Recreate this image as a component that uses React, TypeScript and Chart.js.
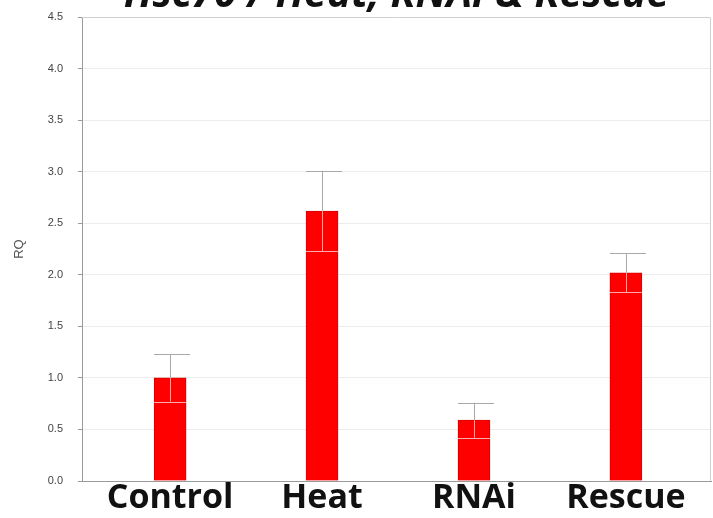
import React, { useEffect, useRef } from "react";
import { Chart, registerables } from "chart.js";

Chart.register(...registerables);

const categories = ["Control", "Heat", "RNAi", "Rescue"];
const rqValues = [1.0, 2.62, 0.59, 2.02];
const rqErrors = [0.23, 0.39, 0.17, 0.19];
const yTicks = [0, 0.5, 1, 1.5, 2, 2.5, 3, 3.5, 4, 4.5];
const chartTitle = "Hsc70 / Heat, RNAi & Rescue";
const yTitle = "RQ";

const SHIFT = 40;

const errorBarPlugin = {
  id: "errorBars",
  afterDatasetsDraw(chart: any) {
    const meta = chart.getDatasetMeta(0);
    const y = chart.scales.y;
    const ctx = chart.ctx;
    ctx.save();
    meta.data.forEach((bar: any, i: number) => {
      const v = rqValues[i];
      const e = rqErrors[i];
      const x = bar.x;
      const w = bar.width;
      const yTop = y.getPixelForValue(v + e);
      const yBar = y.getPixelForValue(v);
      const yLow = y.getPixelForValue(v - e);
      ctx.lineWidth = 1;
      ctx.strokeStyle = "#a8a8a8";
      ctx.beginPath();
      ctx.moveTo(Math.round(x) + 0.5, yTop);
      ctx.lineTo(Math.round(x) + 0.5, yBar);
      ctx.moveTo(x - w / 2, Math.round(yTop) + 0.5);
      ctx.lineTo(x + w / 2 + 4, Math.round(yTop) + 0.5);
      ctx.stroke();
      ctx.strokeStyle = "rgba(255,190,190,0.9)";
      ctx.beginPath();
      ctx.moveTo(Math.round(x) + 0.5, yBar);
      ctx.lineTo(Math.round(x) + 0.5, yLow);
      ctx.moveTo(x - w / 2, Math.round(yLow) + 0.5);
      ctx.lineTo(x + w / 2, Math.round(yLow) + 0.5);
      ctx.stroke();
    });
    ctx.restore();
  },
};

const framePlugin = {
  id: "frame",
  afterDraw(chart: any) {
    const { left, right, top, bottom } = chart.chartArea;
    const ctx = chart.ctx;
    ctx.save();
    ctx.strokeStyle = "#d0d0d0";
    ctx.lineWidth = 1;
    ctx.beginPath();
    ctx.moveTo(left, Math.round(top) + 0.5);
    ctx.lineTo(Math.round(right) - 0.5, Math.round(top) + 0.5);
    ctx.lineTo(Math.round(right) - 0.5, bottom);
    ctx.stroke();
    ctx.restore();
  },
};

export default function App() {
  const ref = useRef<HTMLCanvasElement | null>(null);

  useEffect(() => {
    if (!ref.current) return;
    const chart = new Chart(ref.current, {
      type: "bar",
      data: {
        datasets: [
          {
            data: rqValues.map((v, i) => ({ x: i, y: v })),
            backgroundColor: "#ff0000",
            borderColor: "#d80000",
            borderWidth: 1,
            barThickness: 32,
          },
        ],
      },
      options: {
        animation: false,
        responsive: true,
        maintainAspectRatio: false,
        layout: { padding: { top: 0, right: 2, bottom: 0, left: 0 } },
        plugins: {
          legend: { display: false },
          tooltip: { enabled: false },
          title: {
            display: true,
            text: chartTitle,
            fullSize: false,
            color: "#111",
            font: { family: "'Open Sans', sans-serif", size: 41, weight: "bold", style: "italic" },
            padding: { top: 11, bottom: -3 },
          },
        },
        scales: {
          x: {
            type: "linear",
            min: -0.58,
            max: 3.56,
            offset: false,
            grid: { display: false, drawTicks: false },
            border: { display: true, color: "#9a9a9a" },
            afterFit: (s: any) => {
              s.height = 37;
            },
            afterBuildTicks: (s: any) => {
              s.ticks = categories.map((_, i) => ({ value: i }));
            },
            ticks: {
              autoSkip: false,
              maxRotation: 0,
              padding: -3,
              color: "#111",
              font: { family: "'Open Sans', sans-serif", size: 34, weight: "bold" },
              callback: (v: any) => categories[Math.round(Number(v))] ?? "",
            },
          },
          y: {
            min: 0,
            max: 4.5,
            afterFit: (s: any) => {
              s.width = 82;
            },
            afterBuildTicks: (s: any) => {
              s.ticks = yTicks.map((v) => ({ value: v }));
            },
            grid: { color: "#ececec", tickColor: "#9a9a9a", tickLength: 4 },
            border: { display: true, color: "#9a9a9a" },
            ticks: {
              padding: 15,
              color: "#444",
              font: { family: "'Liberation Sans', Arial, sans-serif", size: 11 },
              callback: (v: any) => Number(v).toFixed(1),
            },
            title: {
              display: true,
              text: yTitle,
              color: "#555",
              padding: { top: 12, bottom: 0 },
              font: { family: "'Liberation Sans', Arial, sans-serif", size: 13 },
            },
          },
        },
      },
      plugins: [errorBarPlugin, framePlugin],
    });
    return () => chart.destroy();
  }, []);

  return (
    <div
      style={{
        position: "fixed",
        left: 0,
        top: 0,
        width: 713,
        height: 518,
        overflow: "hidden",
        background: "#fff",
      }}
    >
      <div style={{ position: "absolute", left: 0, top: -SHIFT, width: 713, height: 518 + SHIFT }}>
        <canvas ref={ref} />
      </div>
    </div>
  );
}
